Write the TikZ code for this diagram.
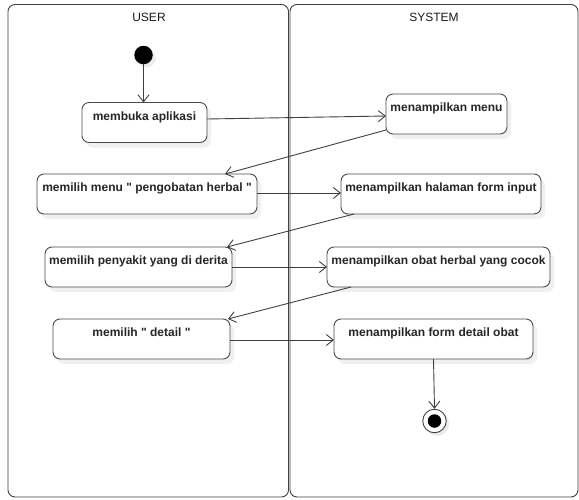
\documentclass[tikz,border=0pt]{standalone}
\usepackage{fontspec}
\setmainfont{Liberation Sans}[Ligatures=TeXOff]
\usetikzlibrary{arrows.meta,shadows}
\begin{document}
\begin{tikzpicture}[x=1pt,y=-1pt,
  lane/.style={draw=black!75, line width=0.9pt, rounded corners=7pt},
  title/.style={font=\fontsize{12}{14}\selectfont, text=black!90},
  act/.style={draw=black!70, line width=0.9pt, rounded corners=7pt, fill=white,
    inner sep=0pt, outer sep=0pt, text height=17.5pt, text depth=22.5pt,
    minimum height=40pt, font=\fontsize{12}{14}\selectfont\bfseries, text=black!85,
    drop shadow={shadow xshift=4pt, shadow yshift=-5pt, opacity=1, fill=black!6}},
  flow/.style={draw=black!75, line width=0.9pt, -{Straight Barb[length=7pt,width=11pt]}}
]
\useasboundingbox (0,0) rectangle (579,499);
\fill[white] (0,0) rectangle (579,499);

\draw[lane] (8,4.5) rectangle (288.5,497);
\draw[lane] (290,4.5) rectangle (578,497);
\node[title] (ut) at (149,17) {USER};
\node[title] (stt) at (434,17) {SYSTEM};

\node[circle, fill=black, minimum size=18.5pt, inner sep=0pt,
  drop shadow={shadow xshift=3pt, shadow yshift=-3pt, opacity=1, fill=black!8}] (st) at (143.5,55) {};

\node[act, minimum width=125pt] (a1) at (144.5,122.5) {membuka aplikasi};
\node[act, minimum width=121pt] (s1) at (446.5,114) {menampilkan menu};
\node[act, minimum width=220pt] (a2) at (147,194) {memilih menu " pengobatan herbal "};
\node[act, minimum width=200pt] (s2) at (441,194) {menampilkan halaman form input};
\node[act, minimum width=187pt] (a3) at (138.5,267) {memilih penyakit yang di derita};
\node[act, minimum width=223pt] (s3) at (438.5,267) {menampilkan obat herbal yang cocok};
\node[act, minimum width=177pt] (a4) at (141.5,339) {memilih " detail "};
\node[act, minimum width=199pt] (s4) at (433.5,339) {menampilkan form detail obat};

\node[circle, draw=black!75, fill=white, line width=0.9pt, minimum size=23.5pt, inner sep=0pt,
  drop shadow={shadow xshift=3pt, shadow yshift=-3pt, opacity=1, fill=black!8}] (en) at (434.5,421) {};
\node[circle, fill=black, minimum size=13.5pt, inner sep=0pt] (enin) at (en) {};

\draw[flow] (st.south) -- (st.south |- a1.north);
\draw[flow] ([yshift=3.5pt]a1.east) -- ([yshift=-2pt]s1.west);
\draw[flow] ([yshift=4pt]s1.south west) -- ([xshift=78pt]a2.north);
\draw[flow] ([yshift=1pt]a2.east) -- ([yshift=1pt]s2.west);
\draw[flow] ([xshift=-87pt]s2.south) -- ([xshift=88.5pt]a3.north);
\draw[flow] (a3.east) -- (s3.west);
\draw[flow] ([xshift=-87.5pt]s3.south) -- ([xshift=86.5pt]a4.north);
\draw[flow] ([yshift=-1pt]a4.east) -- ([yshift=-1pt]s4.west);
\draw[flow] (s4.south) -- (en.north);
\end{tikzpicture}
\end{document}
